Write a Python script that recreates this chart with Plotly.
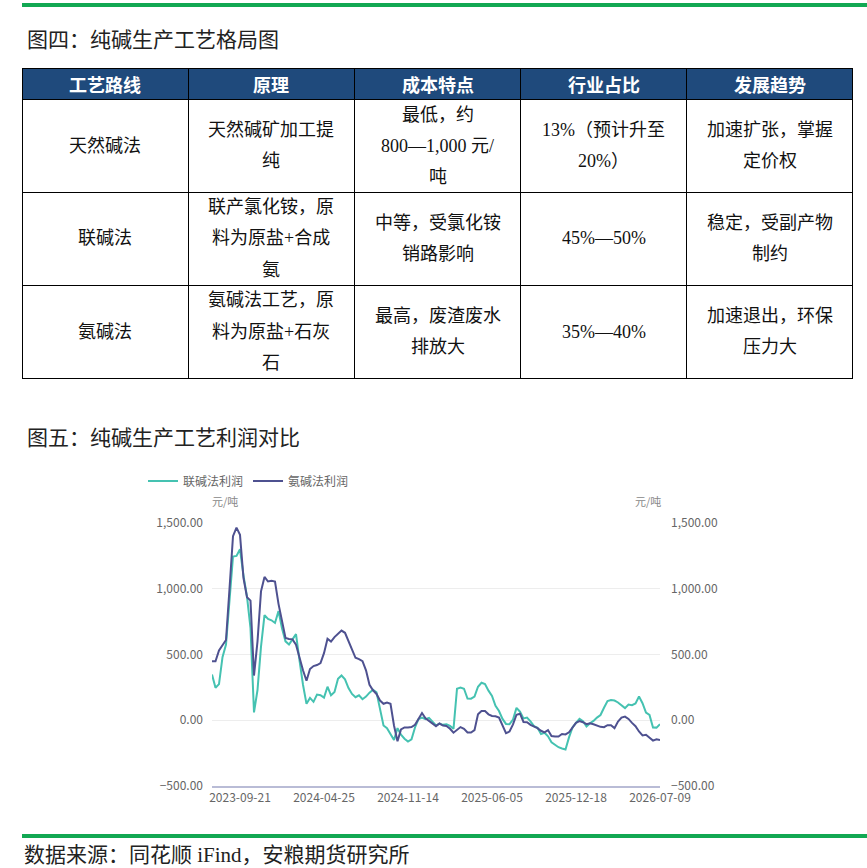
import plotly.graph_objects as go

W, H = 867, 868

# ---------- table data ----------
table_headers = ["工艺路线", "原理", "成本特点", "行业占比", "发展趋势"]
table_rows = [
    ["天然碱法", "天然碱矿加工提<br>纯", "最低，约<br>800—1,000 元/<br>吨", "13%（预计升至<br>20%）", "加速扩张，掌握<br>定价权"],
    ["联碱法", "联产氯化铵，原<br>料为原盐+合成<br>氨", "中等，受氯化铵<br>销路影响", "45%—50%", "稳定，受副产物<br>制约"],
    ["氨碱法", "氨碱法工艺，原<br>料为原盐+石灰<br>石", "最高，废渣废水<br>排放大", "35%—40%", "加速退出，环保<br>压力大"],
]

# ---------- line chart data (元/吨) ----------
tick_labels = ["2023-09-21", "2024-04-25", "2024-11-14", "2025-06-05", "2025-12-18", "2026-07-09"]
lianjian = [
    348, 247, 275, 480, 575, 950, 1245, 1250, 1300, 1100,
    940, 700, 60, 230, 560, 800, 770, 760, 740, 830,
    700, 600, 576, 615, 655, 455, 270, 125, 170, 140,
    195, 190, 172, 255, 190, 215, 315, 340, 311, 245,
    200, 175, 190, 160, 180, 210, 232, 212, 83, -40,
    -60, -100, -150, -60, -110, -140, -162, -145, -55, 8,
    20, 8, 18, -10, -40, -25, -35, -30, -43, -65,
    240, 248, 240, 165, 164, 180, 255, 285, 275, 225,
    185, 110, 70, 10, -28, -30, 5, 94, 65, 14,
    20, -8, -45, -58, -105, -95, -122, -168, -189, -205,
    -215, -222, -130, -55, -20, 10, -8, -48, -23, -5,
    20, 40, 95, 146, 153, 150, 135, 115, 92, 120,
    115, 128, 180, 130, 58, 40, -55, -56, -30,
]
anjian = [
    449, 449, 530, 570, 610, 1000, 1400, 1465, 1410, 1080,
    935, 910, 340, 600, 980, 1090, 1055, 1060, 1055, 885,
    760, 625, 618, 615, 575, 470, 380, 300, 390, 412,
    420, 435, 510, 620, 598, 632, 660, 682, 665, 600,
    535, 475, 465, 450, 380, 270, 228, 200, 150, 125,
    135, 125, -40, -160, -70, -55, -55, -52, -35, 5,
    55, 15, -5, -25, -45, -25, -40, -43, -65, -95,
    -70, -52, -65, -93, -93, -75, 45, 70, 70, 45,
    33, 30, 20, -40, -98, -86, -32, 42, 50, -13,
    -15, -35, -48, -60, -80, -92, -75, -120, -124, -124,
    -105, -108, -92, -55, -20, -6, -15, -30, -23, -30,
    -40, -50, -53, -38, -38, -60, -10, 20, 28, 10,
    -20, -45, -85, -115, -110, -132, -155, -145, -150,
]
weeks = list(range(len(lianjian)))
tick_pos = weeks[8::24]


def px(x):
    return x / W


def py(y):
    return 1 - y / H


SERIF = "Liberation Serif, Noto Sans CJK SC"
SANS = "Noto Sans CJK SC"

fig = go.Figure()

# table grid (text is laid on top with annotations so line spacing and header height match)
tbl_left, tbl_right, tbl_top = 22, 853, 68
head_h, row_h = 31, 93
fig.add_trace(go.Table(
    domain=dict(x=[px(tbl_left), px(tbl_right)], y=[py(tbl_top + head_h + 3 * row_h + 6), py(tbl_top)]),
    header=dict(values=["" for _ in table_headers], fill_color="#1F4A7C",
                line=dict(color="#000000", width=1), height=head_h, font=dict(size=2)),
    cells=dict(values=[["", "", ""] for _ in table_headers], fill_color="white",
               line=dict(color="#000000", width=1), height=row_h, font=dict(size=2)),
))

annotations = []
col_w = (tbl_right - tbl_left) / len(table_headers)
for c, h in enumerate(table_headers):
    annotations.append(dict(x=px(tbl_left + col_w * (c + 0.5)), y=py(tbl_top + head_h / 2), text=f"<b>{h}</b>",
                            xanchor="center", font=dict(family=SANS, size=18, color="white")))
for r, row in enumerate(table_rows):
    yc = tbl_top + head_h + row_h * (r + 0.5)
    for c, text in enumerate(row):
        lines = text.split("<br>")
        xc = tbl_left + col_w * (c + 0.5)
        for k, line in enumerate(lines):
            yk = yc + (k - (len(lines) - 1) / 2) * 31
            annotations.append(dict(x=px(xc), y=py(yk), text=line, xanchor="center",
                                    font=dict(family=SERIF, size=18, color="#111111")))

# line chart
fig.add_trace(go.Scatter(x=weeks, y=lianjian, name="联碱法利润", mode="lines",
                         line=dict(color="#45C2B1", width=2)))
fig.add_trace(go.Scatter(x=weeks, y=anjian, name="氨碱法利润", mode="lines", yaxis="y2",
                         line=dict(color="#4E5190", width=2)))

plot_l, plot_r, plot_t, plot_b = 212, 660, 523, 786

annotations += [
    dict(x=px(25), y=py(40), text="图四：纯碱生产工艺格局图", font=dict(family=SERIF, size=21, color="#222222"),
         xanchor="left"),
    dict(x=px(25), y=py(438), text="图五：纯碱生产工艺利润对比", font=dict(family=SERIF, size=21, color="#222222"),
         xanchor="left"),
    dict(x=px(22), y=py(855), text="数据来源：同花顺 iFind，安粮期货研究所",
         font=dict(family=SERIF, size=21, color="#222222"), xanchor="left"),
    dict(x=px(225), y=py(501), text="元/吨", font=dict(family=SANS, size=11, color="#888888"), xanchor="center"),
    dict(x=px(648), y=py(501), text="元/吨", font=dict(family=SANS, size=11, color="#888888"), xanchor="center"),
]
for a in annotations:
    a.setdefault("xref", "paper")
    a.setdefault("yref", "paper")
    a.setdefault("showarrow", False)
    a.setdefault("yanchor", "middle")

green = "#12A853"
shapes = [
    dict(type="line", xref="paper", yref="paper", x0=px(22), x1=1, y0=py(5), y1=py(5),
         line=dict(color=green, width=4)),
    dict(type="line", xref="paper", yref="paper", x0=px(22), x1=1, y0=py(836), y1=py(836),
         line=dict(color=green, width=4)),
]

axis_font = dict(family=SANS, size=12, color="#666666")
fig.update_layout(
    width=W, height=H,
    margin=dict(l=0, r=0, t=0, b=0, autoexpand=False),
    paper_bgcolor="white", plot_bgcolor="white",
    showlegend=True,
    legend=dict(orientation="h", x=px(143), y=py(481), xanchor="left", yanchor="middle",
                font=dict(family=SANS, size=12, color="#666666"), bgcolor="rgba(0,0,0,0)"),
    xaxis=dict(domain=[px(plot_l), px(plot_r)], range=[weeks[0], weeks[-1]], tickvals=tick_pos,
               ticktext=tick_labels, showgrid=False, zeroline=False, showline=True, automargin=False,
               linecolor="#B9BCD6", linewidth=2, ticks="", tickfont=axis_font),
    yaxis=dict(domain=[py(plot_b), py(plot_t)], range=[-500, 1500], dtick=500, tickformat=",.2f",
               gridcolor="#EDEDED", zeroline=False, showline=False, ticks="", automargin=False,
               ticklabelstandoff=8, tickfont=axis_font),
    yaxis2=dict(overlaying="y", side="right", range=[-500, 1500], dtick=500, tickformat=",.2f",
                showgrid=False, zeroline=False, showline=False, ticks="", automargin=False,
                ticklabelstandoff=10, tickfont=axis_font),
    annotations=annotations,
    shapes=shapes,
)

fig.write_html("out.html", config={"displayModeBar": False},
               post_script="document.body.style.margin='0';document.body.style.overflow='hidden';")
